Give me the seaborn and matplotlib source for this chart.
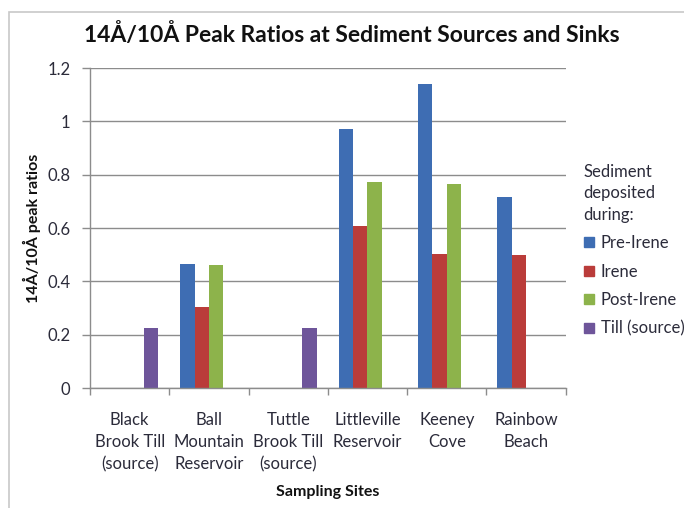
import numpy as np
import pandas as pd
import seaborn as sns
import matplotlib.pyplot as plt
from matplotlib.lines import Line2D
from matplotlib.patches import Rectangle

sites = ["Black\nBrook Till\n(source)", "Ball\nMountain\nReservoir",
         "Tuttle\nBrook Till\n(source)", "Littleville\nReservoir",
         "Keeney\nCove", "Rainbow\nBeach"]
periods = ["Pre-Irene", "Irene", "Post-Irene", "Till (source)"]

pre_irene = [np.nan, 0.465, np.nan, 0.973, 1.14, 0.717]
irene = [np.nan, 0.306, np.nan, 0.607, 0.504, 0.498]
post_irene = [np.nan, 0.460, np.nan, 0.772, 0.767, np.nan]
till_source = [0.227, np.nan, 0.226, np.nan, np.nan, np.nan]

colors = ["#3E6DB3", "#BA3C3A", "#8DB34B", "#6E559A"]

rows = []
for period, vals in zip(periods, [pre_irene, irene, post_irene, till_source]):
    for site, v in zip(sites, vals):
        rows.append({"site": site, "period": period, "ratio": v})
df = pd.DataFrame(rows)

sns.set_theme(style="white")
plt.rcParams["font.family"] = ["Lato", "DejaVu Sans"]

fig = plt.figure(figsize=(6.84, 5.08), dpi=100)
ax = fig.add_axes([0.1316, 0.236, 0.827 - 0.1316, 0.866 - 0.236])

sns.barplot(data=df, x="site", y="ratio", hue="period", order=sites,
            hue_order=periods, palette=colors, saturation=1, width=0.72,
            errorbar=None, ax=ax, legend=False, linewidth=0, gap=0)

ax.set_ylim(0, 1.2)
ax.set_xlim(-0.5, len(sites) - 0.5)
ax.set_yticks(np.arange(0, 1.21, 0.2))
ax.set_yticklabels(["0", "0.2", "0.4", "0.6", "0.8", "1", "1.2"])
ax.yaxis.grid(True, color="#8C8C8C", linewidth=1.0)
ax.set_axisbelow(True)

for side in ["top", "right"]:
    ax.spines[side].set_visible(False)
for side in ["left", "bottom"]:
    ax.spines[side].set_color("#8C8C8C")
    ax.spines[side].set_linewidth(1.0)

label_color = "#2B2B3A"
ax.tick_params(axis="y", which="major", left=True, length=6, width=1,
               color="#8C8C8C", pad=8, labelsize=12, labelcolor=label_color)
ax.tick_params(axis="x", which="major", bottom=False, length=0, pad=17,
               labelsize=12, labelcolor=label_color)
ax.set_xticks(np.arange(-0.5, len(sites), 1.0), minor=True)
ax.tick_params(axis="x", which="minor", bottom=True, length=5, width=1,
               color="#8C8C8C")
for lbl in ax.get_xticklabels():
    lbl.set_linespacing(1.48)

ax.set_xlabel("Sampling Sites", fontsize=11.5, fontweight="bold",
              color="#111111", labelpad=9)
ax.set_ylabel("14Å/10Å peak ratios", fontsize=11.5, fontweight="bold",
              color="#111111", labelpad=5)

fig.suptitle("14Å/10Å Peak Ratios at Sediment Sources and Sinks",
             x=0.515, y=0.955, fontsize=16.5, fontweight="bold", color="#111111")

handles = [Line2D([0], [0], marker="s", linestyle="none", markersize=7.5,
                  markerfacecolor=c, markeredgecolor=c) for c in colors]
leg = fig.legend(handles, periods, title="Sediment\ndeposited\nduring:",
                 loc="upper left", bbox_to_anchor=(0.843, 0.69),
                 frameon=False, fontsize=12, title_fontsize=12,
                 handlelength=0.7, handletextpad=0.35, labelspacing=0.75,
                 borderaxespad=0)
leg._legend_box.align = "left"
leg.get_title().set_linespacing(1.4)
for t in leg.get_texts():
    t.set_color(label_color)
leg.get_title().set_color(label_color)

fig.patches.append(Rectangle((9 / 684, -0.1), 1.2, 1 - 12 / 508 + 0.1,
                             transform=fig.transFigure, fill=False,
                             edgecolor="#C8C8C8", linewidth=1.2))

fig.savefig("out.png", dpi=100)
